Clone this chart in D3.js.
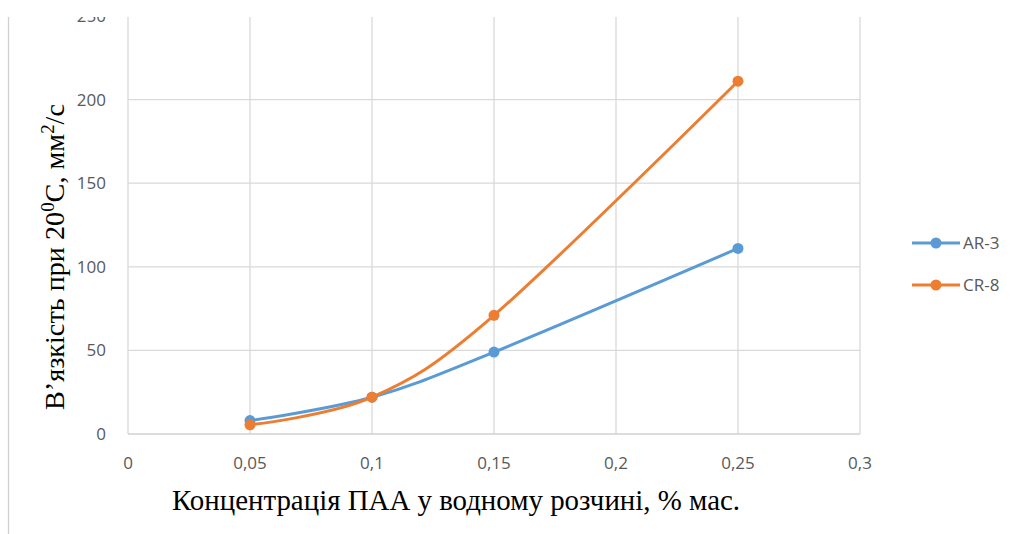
<!DOCTYPE html>
<html>
<head>
<meta charset="utf-8">
<script src="https://cdn.jsdelivr.net/npm/d3@7"></script>
<style>
  body { margin: 0; background: #fff; }
  svg { display: block; }
</style>
</head>
<body>
<div id="chart"></div>
<script>
// data
var concentrations = [0.05, 0.1, 0.15, 0.25];
var ar3 = [8, 22, 49, 111];
var cr8 = [5.5, 22, 71, 211];
var seriesNames = ["AR-3", "CR-8"];
var xTicks = [0, 0.05, 0.1, 0.15, 0.2, 0.25, 0.3];
var xTickLabels = ["0", "0,05", "0,1", "0,15", "0,2", "0,25", "0,3"];
var yTicks = [0, 50, 100, 150, 200, 250];

var width = 1016, height = 534;
var plot = { left: 128, right: 860, top: 16, bottom: 434 };

var svg = d3.select("#chart").append("svg")
    .attr("width", width)
    .attr("height", height);

var x = d3.scaleLinear().domain([0, 0.3]).range([plot.left, plot.right]);
var y = d3.scaleLinear().domain([0, 250]).range([plot.bottom, plot.top]);

var colors = d3.scaleOrdinal().domain(seriesNames).range(["#5b9bd5", "#ed7d31"]);
var tickFont = "'Liberation Sans Narrow', 'Open Sans', sans-serif";

// gridlines
svg.append("g")
    .selectAll("line")
    .data(yTicks.slice(1))
    .enter().append("line")
    .attr("x1", plot.left).attr("x2", plot.right)
    .attr("y1", function (d) { return y(d); })
    .attr("y2", function (d) { return y(d); })
    .style("stroke", "#d9d9d9")
    .style("stroke-width", 1.3);

svg.append("g")
    .selectAll("line")
    .data(xTicks)
    .enter().append("line")
    .attr("x1", function (d) { return x(d); })
    .attr("x2", function (d) { return x(d); })
    .attr("y1", plot.top).attr("y2", plot.bottom)
    .style("stroke", "#d9d9d9")
    .style("stroke-width", 1.3);

// x axis line
svg.append("line")
    .attr("x1", plot.left).attr("x2", plot.right)
    .attr("y1", y(0)).attr("y2", y(0))
    .style("stroke", "#d0d0d0")
    .style("stroke-width", 1.3);

// tick labels
svg.append("g")
    .selectAll("text")
    .data(yTicks)
    .enter().append("text")
    .attr("x", 106)
    .attr("y", function (d) { return y(d); })
    .attr("dy", "0.35em")
    .attr("font-family", tickFont)
    .attr("font-size", 17)
    .style("text-anchor", "end")
    .style("fill", "#595959")
    .text(function (d) { return d; });

svg.append("g")
    .selectAll("text")
    .data(xTicks)
    .enter().append("text")
    .attr("x", function (d) { return x(d); })
    .attr("y", 469)
    .attr("font-family", tickFont)
    .attr("font-size", 17)
    .style("text-anchor", "middle")
    .style("fill", "#595959")
    .text(function (d, i) { return xTickLabels[i]; });

// lines
var series = [
    { name: seriesNames[0], values: ar3 },
    { name: seriesNames[1], values: cr8 }
];

var line = d3.line()
    .x(function (d, i) { return x(concentrations[i]); })
    .y(function (d) { return y(d); })
    .curve(d3.curveCatmullRom.alpha(0));

var g = svg.append("g")
    .selectAll("g")
    .data(series)
    .enter().append("g");

g.append("path")
    .attr("d", function (d) { return line(d.values); })
    .style("fill", "none")
    .style("stroke", function (d) { return colors(d.name); })
    .style("stroke-width", 3);

g.selectAll("circle")
    .data(function (d) { return d.values.map(function (v, i) { return { v: v, i: i, name: d.name }; }); })
    .enter().append("circle")
    .attr("cx", function (d) { return x(concentrations[d.i]); })
    .attr("cy", function (d) { return y(d.v); })
    .attr("r", 5.5)
    .style("fill", function (d) { return colors(d.name); });

// white band on top (picture is cropped there)
svg.append("rect")
    .attr("x", 0).attr("y", 0)
    .attr("width", width).attr("height", 17)
    .style("fill", "#fff");

// left border line of the frame
svg.append("line")
    .attr("x1", 8.5).attr("x2", 8.5)
    .attr("y1", 17).attr("y2", height)
    .style("stroke", "#d0d0d0")
    .style("stroke-width", 1.3);

// legend
var legend = svg.append("g")
    .selectAll("g")
    .data(seriesNames)
    .enter().append("g")
    .attr("transform", function (d, i) { return "translate(912," + (243 + i * 42) + ")"; });

legend.append("line")
    .attr("x1", 0).attr("x2", 48)
    .style("stroke", function (d) { return colors(d); })
    .style("stroke-width", 3);

legend.append("circle")
    .attr("cx", 24)
    .attr("r", 5.5)
    .style("fill", function (d) { return colors(d); });

legend.append("text")
    .attr("x", 51)
    .attr("dy", "0.35em")
    .attr("font-family", tickFont)
    .attr("font-size", 17)
    .style("fill", "#595959")
    .text(function (d) { return d; });

// axis titles
svg.append("text")
    .attr("x", 172)
    .attr("y", 510)
    .attr("font-family", "'Liberation Serif', serif")
    .attr("font-size", 29)
    .attr("textLength", 568)
    .attr("lengthAdjust", "spacingAndGlyphs")
    .style("fill", "#000")
    .text("Концентрація ПАА у водному розчині, % мас.");

var yTitle = svg.append("text")
    .attr("transform", "translate(64,410) rotate(-90)")
    .attr("font-family", "'Liberation Serif', serif")
    .attr("font-size", 27)
    .attr("textLength", 306)
    .attr("lengthAdjust", "spacingAndGlyphs")
    .style("fill", "#000");
yTitle.append("tspan").text("В’язкість при 20");
yTitle.append("tspan").attr("dy", -10).attr("font-size", 18).text("0");
yTitle.append("tspan").attr("dy", 10).text("С, мм");
yTitle.append("tspan").attr("dy", -10).attr("font-size", 18).text("2");
yTitle.append("tspan").attr("dy", 10).text("/с");
</script>
</body>
</html>
